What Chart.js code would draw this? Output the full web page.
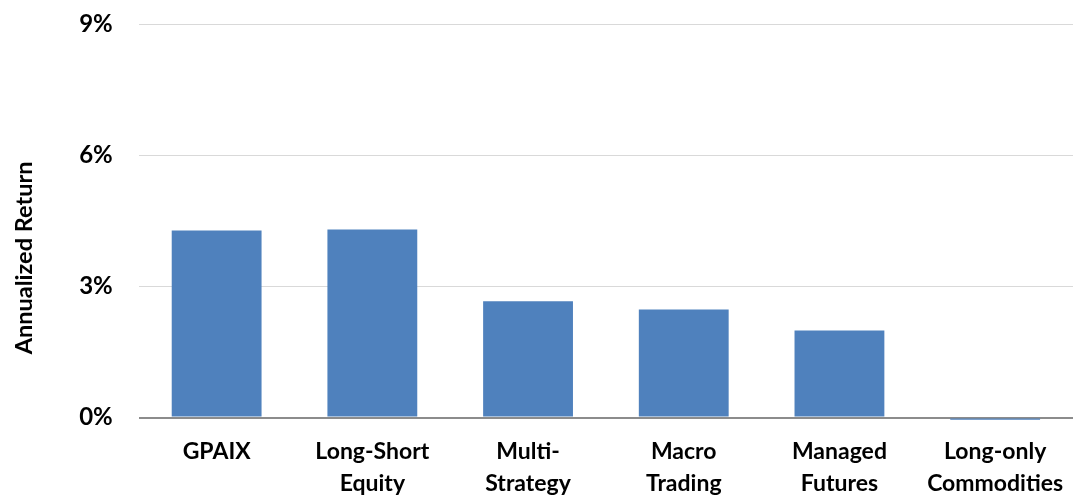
<!DOCTYPE html>
<html>
<head>
  <meta charset="utf-8">
  <title>Annualized Return</title>
  <script src="https://cdn.jsdelivr.net/npm/chart.js"></script>
  <style>
    html, body { margin: 0; padding: 0; background: #fff; }
    #wrap { width: 1075px; height: 497px; }
  </style>
</head>
<body>
<div id="wrap"><canvas id="returns-chart" width="1075" height="497"></canvas></div>

<script>
var categories = [['GPAIX'], ['Long-Short', 'Equity'], ['Multi-', 'Strategy'], ['Macro', 'Trading'], ['Managed', 'Futures'], ['Long-only', 'Commodities']];
var returns = [4.28, 4.30, 2.66, 2.47, 1.99, -0.05];
var yTicks = [0, 3, 6, 9];

var ctx = document.getElementById('returns-chart').getContext('2d');

var myChart = new Chart(ctx, {
  type: 'bar',
  data: {
    labels: categories,
    datasets: [{
      data: returns,
      backgroundColor: '#4f81bd',
      borderWidth: 0,
      categoryPercentage: 0.577,
      barPercentage: 1,
      clip: false
    }]
  },
  options: {
    responsive: false,
    animation: false,
    layout: { padding: { left: 10, right: 2, top: 0, bottom: 0 } },
    plugins: { legend: { display: false }, tooltip: { enabled: false } },
    scales: {
      x: {
        grid: { display: false },
        border: { display: false },
        afterFit: function(axis) { axis.height -= 13; },
        ticks: {
          color: '#000',
          font: { family: 'Lato', size: 23, weight: 'bold', lineHeight: 1.4 },
          padding: 10,
          maxRotation: 0
        }
      },
      y: {
        min: 0,
        max: 9,
        afterBuildTicks: function(axis) {
          axis.ticks = yTicks.map(function(v) { return { value: v }; });
        },
        // the 9% label sits close to the top edge, as in the original
        afterFit: function(axis) { axis.paddingTop = 24; },
        grid: {
          color: function(c) { return c.tick && c.tick.value === 0 ? '#8c8c8c' : '#d9d9d9'; },
          lineWidth: function(c) { return c.tick && c.tick.value === 0 ? 2 : 1; },
          drawTicks: false
        },
        border: { display: false },
        ticks: {
          color: '#000',
          font: { family: 'Lato', size: 24, weight: 'bold' },
          padding: 26,
          callback: function(v) { return v + '%'; }
        },
        title: {
          display: true,
          // trailing spaces push the title a bit lower, like the source
          text: 'Annualized Return             ',
          color: '#000',
          font: { family: 'Lato', size: 23.5, weight: 'bold' },
          padding: { top: 0, bottom: 15 }
        }
      }
    }
  }
});
</script>
</body>
</html>
